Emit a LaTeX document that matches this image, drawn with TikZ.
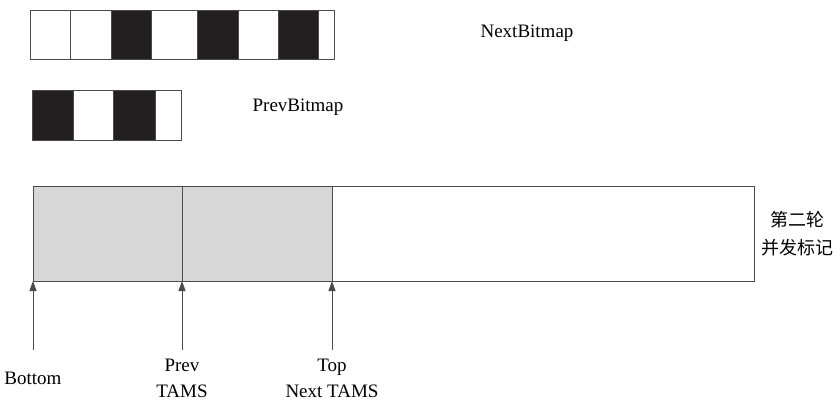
\documentclass[tikz,border=0pt]{standalone}
\usepackage{fontspec}
\setmainfont{Liberation Serif}
\newfontfamily\cjk{Noto Sans CJK SC}
\usetikzlibrary{arrows.meta}
\definecolor{ink}{HTML}{231F20}
\definecolor{edge}{HTML}{4A4A4A}
\definecolor{shade}{HTML}{D7D7D7}
\begin{document}
\begin{tikzpicture}[x=1pt,y=-1pt,
  cellw/.style={draw=edge,line width=1pt,fill=white},
  cellb/.style={draw=edge,line width=1pt,fill=ink},
  lbl/.style={font=\fontsize{19}{21}\selectfont,inner sep=0pt,align=center},
  ptr/.style={draw=edge,line width=1pt,-{Triangle[length=10pt,width=7pt]}}]
\useasboundingbox (0,0) rectangle (840,409);
% NextBitmap
\foreach \a/\b/\s in {30/70/cellw,70/111/cellw,111/151/cellb,151/197/cellw,197/238/cellb,238/278/cellw,278/318/cellb,318/334/cellw}
  \path[\s] (\a,11) rectangle (\b,60);
\node[lbl] (nb) at (527,33) {NextBitmap};
% PrevBitmap
\foreach \a/\b/\s in {32/73/cellb,73/113/cellw,113/155/cellb,155/181/cellw}
  \path[\s] (\a,91) rectangle (\b,140);
\node[lbl] (pb) at (298,107) {PrevBitmap};
% big region
\path[draw=edge,line width=1pt,fill=white] (33,186) rectangle (754,281);
\path[draw=edge,line width=1pt,fill=shade] (33,186) rectangle (182,281);
\path[draw=edge,line width=1pt,fill=shade] (182,186) rectangle (332,281);
\node[lbl,font=\cjk\fontsize{18}{28}\selectfont] (cm) at (797,234) {第二轮\\并发标记};
% pointers
\coordinate (b0) at (33,281);
\coordinate (b1) at (182,281);
\coordinate (b2) at (332,281);
\coordinate (s0) at (33,350);
\coordinate (s1) at (182,350);
\coordinate (s2) at (332,350);
\draw[ptr] (s0) -- (b0);
\draw[ptr] (s1) -- (b1);
\draw[ptr] (s2) -- (b2);
\node[lbl] (lb) at (33,378) {Bottom};
\node[lbl,font=\fontsize{19}{26}\selectfont] (lp) at (182,378) {Prev\\TAMS};
\node[lbl,font=\fontsize{19}{26}\selectfont] (lt) at (332,378) {Top\\Next TAMS};
\end{tikzpicture}
\end{document}
